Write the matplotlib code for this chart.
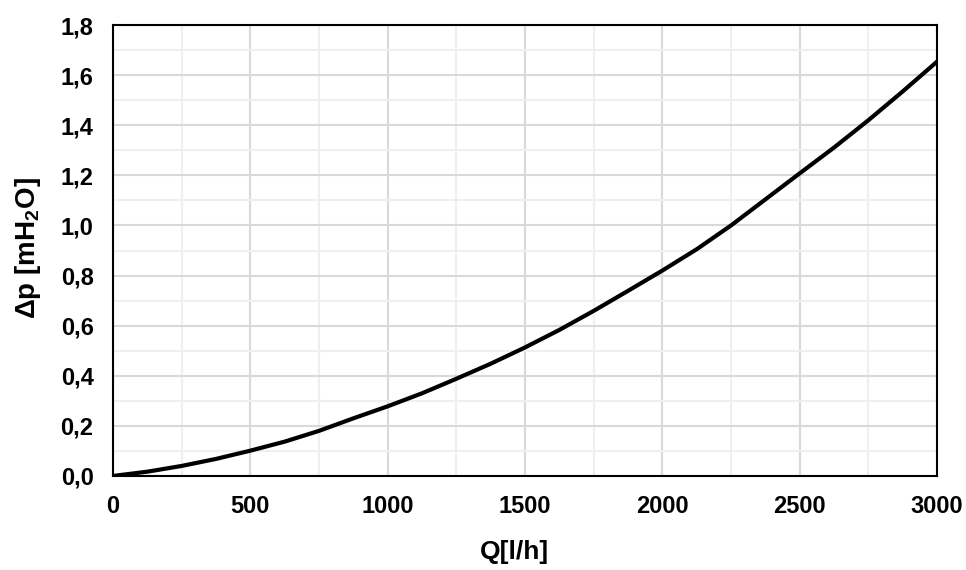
import matplotlib
matplotlib.use("Agg")
import matplotlib.pyplot as plt
from matplotlib.ticker import MultipleLocator, FuncFormatter

# flow [l/h] and pressure drop [mH2O]
flow = [0, 125, 250, 375, 500, 625, 750, 875, 1000, 1125, 1250, 1375, 1500,
        1625, 1750, 1875, 2000, 2125, 2250, 2375, 2500, 2625, 2750, 2875, 3000]
dp = [0.0, 0.017, 0.040, 0.068, 0.101, 0.137, 0.180, 0.230, 0.278, 0.330,
      0.388, 0.448, 0.513, 0.583, 0.659, 0.739, 0.820, 0.905, 1.000, 1.104,
      1.208, 1.311, 1.420, 1.535, 1.654]

plt.rcParams["font.family"] = ["Liberation Sans", "DejaVu Sans"]
plt.rcParams["font.weight"] = "bold"
plt.rcParams["mathtext.fontset"] = "custom"
plt.rcParams["mathtext.rm"] = "Liberation Sans:bold"
plt.rcParams["mathtext.bf"] = "Liberation Sans:bold"

fig = plt.figure(figsize=(9.66, 5.70), dpi=100)
ax = fig.add_axes([0.117, 0.165, 0.853, 0.791])

ax.plot(flow, dp, color="black", lw=3, solid_joinstyle="round", zorder=3)

ax.set_xlim(0, 3000)
ax.set_ylim(0, 1.8)
ax.xaxis.set_major_locator(MultipleLocator(500))
ax.xaxis.set_minor_locator(MultipleLocator(250))
ax.yaxis.set_major_locator(MultipleLocator(0.2))
ax.yaxis.set_minor_locator(MultipleLocator(0.1))
ax.yaxis.set_major_formatter(FuncFormatter(lambda v, p: f"{v:.1f}".replace(".", ",")))

ax.grid(which="major", color="#d9d9d9", lw=1.5, zorder=0)
ax.grid(which="minor", color="#efefef", lw=1.5, zorder=0)
ax.set_axisbelow(True)

ax.tick_params(which="both", length=0)
ax.tick_params(axis="y", labelsize=17, pad=14)
ax.tick_params(axis="x", labelsize=17, pad=14)
for lbl in ax.get_xticklabels() + ax.get_yticklabels():
    lbl.set_fontweight("bold")

for s in ax.spines.values():
    s.set_linewidth(1.5)
    s.set_color("black")

ax.set_xlabel("Q[l/h]", fontsize=19, fontweight="bold", va="center")
ax.set_ylabel(r"$\Delta$p [mH$_2$O]", fontsize=20, fontweight="bold", va="center")
ax.xaxis.set_label_coords(0.487, -0.168)
ax.yaxis.set_label_coords(-0.103, 0.505)

fig.savefig("out.png", dpi=100)
